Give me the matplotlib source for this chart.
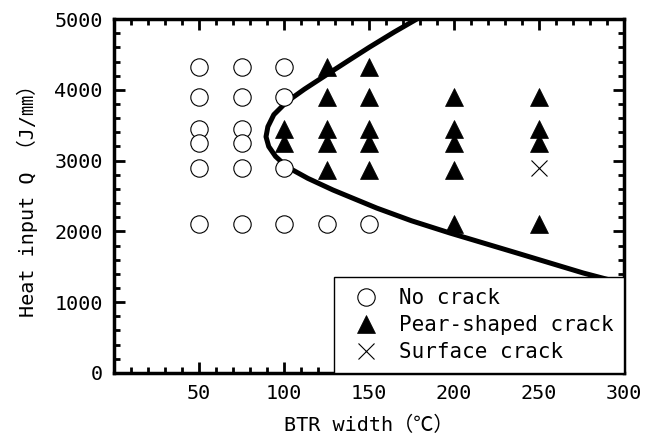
import matplotlib.pyplot as plt
from matplotlib.ticker import MultipleLocator

plt.rcParams['font.family'] = ['DejaVu Sans Mono', 'Noto Sans CJK JP']

# no crack points (BTR width, heat input)
nocrack_x = [50, 50, 50, 50, 50, 50, 75, 75, 75, 75, 75, 75, 100, 100, 100, 100, 125, 150]
nocrack_q = [4330, 3900, 3450, 3250, 2900, 2100, 4330, 3900, 3450, 3250, 2900, 2100,
             4330, 3900, 2900, 2100, 2100, 2100]

# pear-shaped crack points
pear_x = [100, 100, 125, 125, 125, 125, 125, 150, 150, 150, 150, 150,
          200, 200, 200, 200, 200, 250, 250, 250, 250]
pear_q = [3450, 3250, 4330, 3900, 3450, 3250, 2870, 4330, 3900, 3450, 3250, 2870,
          3900, 3450, 3250, 2870, 2100, 3900, 3450, 3250, 2100]

# surface crack
surf_x = [250]
surf_q = [2900]

# boundary curve
curve_x = [178, 165, 150, 137, 124.7, 112, 101.6, 94, 90.5, 89.4, 91, 95, 101.6,
           114, 128.8, 154.5, 175, 197.6, 236.9, 276, 300]
curve_q = [5000, 4820, 4600, 4400, 4209, 4010, 3832, 3650, 3480, 3338, 3200, 3060, 2914,
           2750, 2585, 2330, 2150, 1977, 1695, 1412, 1260]

fig = plt.figure(figsize=(6.59, 4.45), dpi=100)
ax = fig.add_axes([0.173, 0.162, 0.774, 0.795])

ax.plot(curve_x, curve_q, color='black', lw=3.6, zorder=2, solid_capstyle='butt')
ax.plot(nocrack_x, nocrack_q, 'o', ms=12.5, mfc='white', mec='black', mew=0.8,
        ls='none', label='No crack', zorder=3)
ax.plot(pear_x, pear_q, '^', ms=13.5, mfc='black', mec='black', mew=0.5,
        ls='none', label='Pear-shaped crack', zorder=3)
ax.plot(surf_x, surf_q, 'x', ms=12, color='black', mew=0.8,
        ls='none', label='Surface crack', zorder=3)

ax.set_xlim(0, 300)
ax.set_ylim(0, 5000)
ax.xaxis.set_major_locator(MultipleLocator(50))
ax.xaxis.set_minor_locator(MultipleLocator(10))
ax.yaxis.set_major_locator(MultipleLocator(1000))
ax.yaxis.set_minor_locator(MultipleLocator(200))
ax.set_xticks([50, 100, 150, 200, 250, 300])

ax.tick_params(which='both', direction='in', top=True, right=True, width=2,
               labelsize=14.5, pad=8)
ax.tick_params(which='major', length=8)
ax.tick_params(which='minor', length=4)
for s in ax.spines.values():
    s.set_linewidth(2.5)

ax.set_xlabel('BTR width（℃）', fontsize=14.5, labelpad=9)
ax.set_ylabel('Heat input Q （J/㎜）', fontsize=14.5, labelpad=12)

leg = ax.legend(loc='lower right', bbox_to_anchor=(1, 0), borderaxespad=0,
                fancybox=False, edgecolor='black', framealpha=1, fontsize=15,
                handletextpad=0.6, labelspacing=0.35, borderpad=0.5,
                handlelength=2.0)
leg.get_frame().set_linewidth(1.0)
leg.set_zorder(5)

fig.savefig('out.png', dpi=100)
